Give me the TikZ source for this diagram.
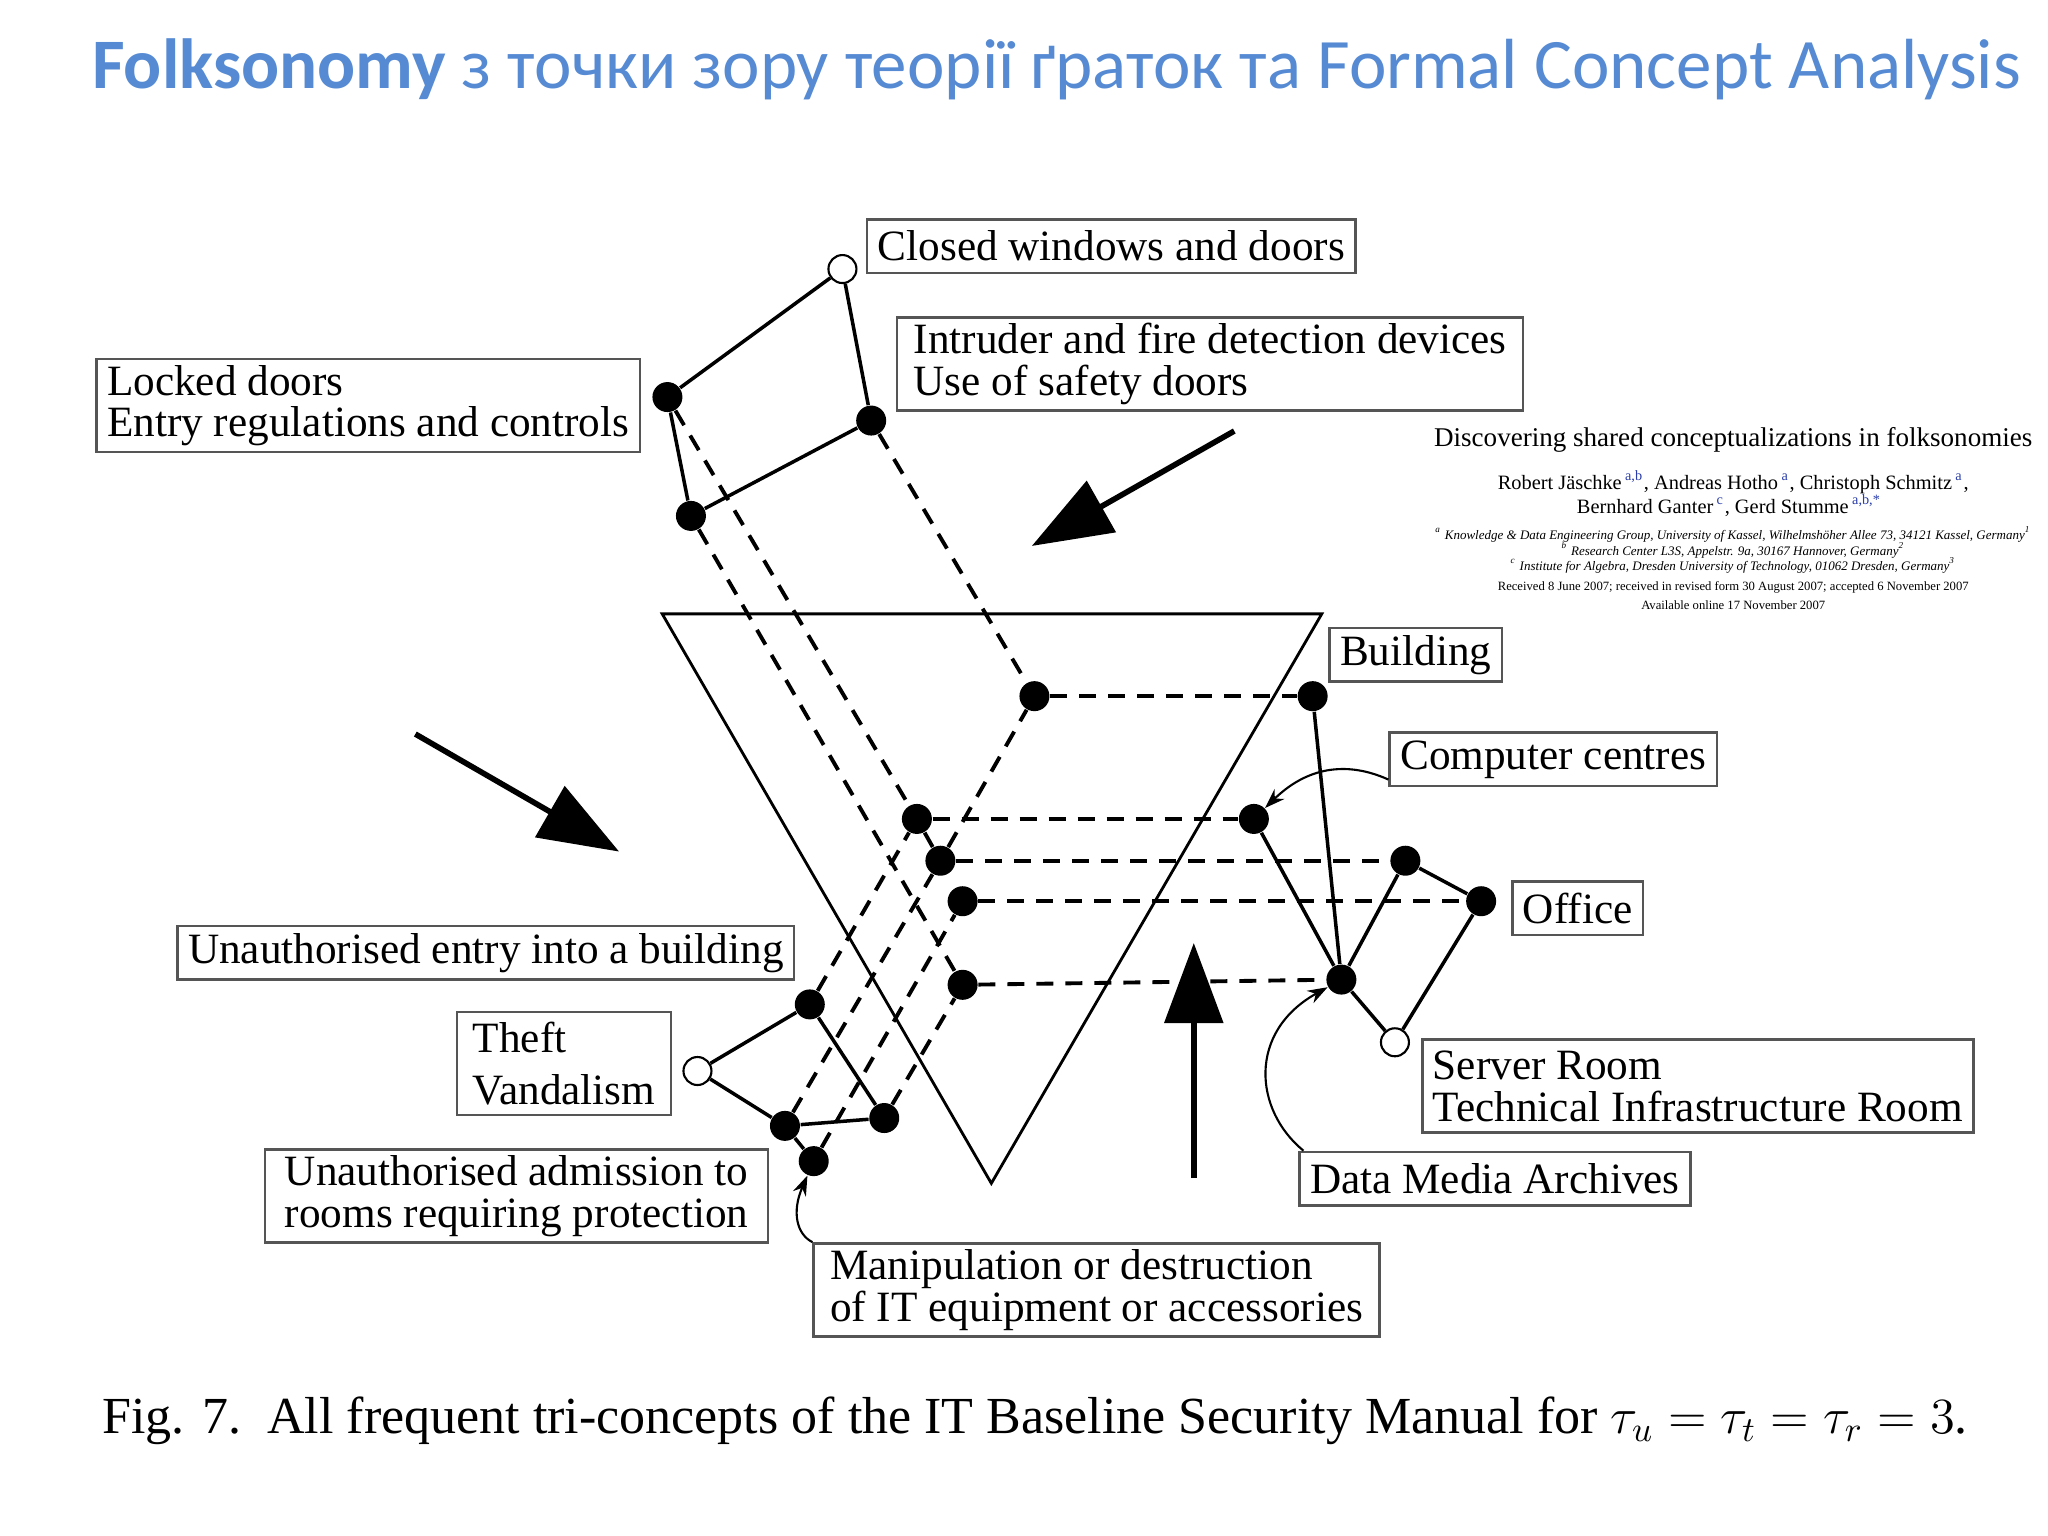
\documentclass[tikz,border=0pt]{standalone}
\usepackage{fontspec}
\setmainfont{Liberation Serif}
\newfontfamily\titlefont{Carlito}
\usetikzlibrary{arrows.meta,positioning}
\definecolor{titleblue}{RGB}{86,139,212}
\definecolor{boxgray}{RGB}{85,85,85}
\definecolor{refblue}{RGB}{40,60,170}

\begin{document}
\begin{tikzpicture}[x=0.13061mm, y=-0.13061mm,
    fdot/.style={circle, fill=black, inner sep=0pt, minimum size=3mm},
    hollow/.style={circle, draw=black, fill=white, line width=0.6pt,
      inner sep=0pt, minimum size=2.8mm},
    lbl/.style={draw=boxgray, line width=0.7pt, inner xsep=3pt, inner ysep=1pt,
      minimum height=5.35mm, align=left, anchor=north west,
      font=\fontsize{12.3}{11.9}\selectfont},
    twoline/.style={minimum height=9.3mm},
    latline/.style={line width=1pt},
    proj/.style={line width=1.1pt, dash pattern=on 1.7mm off 1.2mm},
    bigarrow/.style={line width=1.6pt, -{Triangle[length=8mm, width=5.8mm]}},
    pointer/.style={line width=0.6pt, -{Stealth[length=2mm, width=1.4mm]}}]
  \useasboundingbox (0,0) rectangle (1568,1176);

  % Title
  \node[anchor=west, inner sep=0pt, text=titleblue,
    font=\titlefont\fontsize{20.2}{24}\selectfont]
    (title) at (70,53) {\textbf{Folksonomy} з точки зору теорії ґраток та Formal Concept Analysis};

  % Paper header
  \node[font=\fontsize{7.7}{9}\selectfont] (paper) at (1327,337)
    {Discovering shared conceptualizations in folksonomies};
  \node[font=\fontsize{5.8}{7}\selectfont] (auth1) at (1327,369)
    {Robert Jäschke\,\textsuperscript{\color{refblue}a,b}, Andreas Hotho\,\textsuperscript{\color{refblue}a}, Christoph Schmitz\,\textsuperscript{\color{refblue}a},};
  \node[font=\fontsize{5.8}{7}\selectfont] (auth2) at (1324,387)
    {Bernhard Ganter\,\textsuperscript{\color{refblue}c}, Gerd Stumme\,\textsuperscript{\color{refblue}a,b,*}};
  \node[font=\fontsize{3.7}{4.5}\selectfont\itshape] (aff1) at (1327,409)
    {\textsuperscript{a} Knowledge \& Data Engineering Group, University of Kassel, Wilhelmshöher Allee 73, 34121 Kassel, Germany\textsuperscript{1}};
  \node[font=\fontsize{3.7}{4.5}\selectfont\itshape] (aff2) at (1327,421)
    {\textsuperscript{b} Research Center L3S, Appelstr. 9a, 30167 Hannover, Germany\textsuperscript{2}};
  \node[font=\fontsize{3.7}{4.5}\selectfont\itshape] (aff3) at (1327,433)
    {\textsuperscript{c} Institute for Algebra, Dresden University of Technology, 01062 Dresden, Germany\textsuperscript{3}};
  \node[font=\fontsize{3.6}{4.5}\selectfont] (recv1) at (1327,450)
    {Received 8 June 2007; received in revised form 30 August 2007; accepted 6 November 2007};
  \node[font=\fontsize{3.6}{4.5}\selectfont] (recv2) at (1327,463)
    {Available online 17 November 2007};

  % Plane
  \draw[line width=0.8pt] (507,470) -- (1012,470) -- (759,906) -- cycle;

  % Top lattice
  \node[hollow] (t1) at (645,206) {};
  \node[fdot] (t2) at (511,304) {};
  \node[fdot] (t3) at (667,322) {};
  \node[fdot] (t4) at (529,395) {};
  \draw[latline] (t1) -- (t2) (t1) -- (t3) (t2) -- (t4) (t3) -- (t4);

  % Right lattice
  \node[fdot] (r1) at (1005,533) {};
  \node[fdot] (r2) at (960,627) {};
  \node[fdot] (r3) at (1076,659) {};
  \node[fdot] (r4) at (1134,690) {};
  \node[fdot] (r5) at (1027,750) {};
  \node[hollow] (r6) at (1068,798) {};
  \draw[latline] (r1) -- (r5) (r2) -- (r5) (r3) -- (r5)
    (r3) -- (r4) (r4) -- (r6) (r5) -- (r6);

  % Bottom lattice
  \node[hollow] (b1) at (534,820) {};
  \node[fdot] (b2) at (620,769) {};
  \node[fdot] (b3) at (601,862) {};
  \node[fdot] (b4) at (677,856) {};
  \node[fdot] (b5) at (623,889) {};
  \draw[latline] (b1) -- (b2) (b1) -- (b3) (b2) -- (b4) (b3) -- (b4) (b3) -- (b5);

  % Tri-concepts
  \node[fdot] (m1) at (792,533) {};
  \node[fdot] (m2) at (702,627) {};
  \node[fdot] (m3) at (720,659) {};
  \node[fdot] (m4) at (737,690) {};
  \node[fdot] (m5) at (737,754) {};

  \draw[proj] (t3) -- (m1);
  \draw[proj] (t2) -- (m2);
  \draw[proj] (m2) -- (m3);
  \draw[proj] (t4) -- (m5);
  \draw[proj] (b3) -- (m3);
  \draw[proj] (m3) -- (m1);
  \draw[proj] (b2) -- (m2);
  \draw[proj] (b5) -- (m4);
  \draw[proj] (b4) -- (m5);
  \draw[proj] (m1) -- (r1);
  \draw[proj] (m2) -- (r2);
  \draw[proj] (m3) -- (r3);
  \draw[proj] (m4) -- (r4);
  \draw[proj] (m5) -- (r5);

  % Labels
  \node[lbl] (closed) at (663,167) {Closed windows and doors};
  \node[lbl, twoline, minimum width=62.6mm] (intruder) at (686,242)
    {Intruder and fire detection devices\\Use of safety doors};
  \node[lbl, twoline] (locked) at (73,274) {Locked doors\\Entry regulations and controls};
  \node[lbl] (building) at (1017,480) {Building};
  \node[lbl] (computer) at (1063,560) {Computer centres};
  \node[lbl] (office) at (1157,674) {Office};
  \node[lbl, twoline] (server) at (1088,795) {Server Room\\Technical Infrastructure Room};
  \node[lbl] (archives) at (994,881) {Data Media Archives};
  \node[lbl] (entry) at (135,708) {Unauthorised entry into a building};
  \node[lbl, minimum height=10.3mm, minimum width=21.4mm] (theft) at (349,774)
    {Theft\\[3pt]Vandalism};
  \node[lbl, twoline, minimum width=50.3mm] (admission) at (202,879)
    {Unauthorised admission to\\rooms requiring protection};
  \node[lbl, twoline, minimum width=56.6mm] (manip) at (622,951)
    {Manipulation or destruction\\of IT equipment or accessories};

  \draw[pointer] (computer.south west) ++(0,-6) .. controls (1030,582) and (1000,588) .. (r2);
  \draw[pointer] (archives.north west) ++(4,0) .. controls (960,850) and (955,790) .. (r5);
  \draw[pointer] (manip.north west) .. controls (610,945) and (606,928) .. (b5);

  % Direction arrows
  \coordinate (ua) at (945,330);
  \coordinate (ub) at (790,418);
  \coordinate (la) at (318,562);
  \coordinate (lb) at (474,652);
  \coordinate (ba) at (914,902);
  \coordinate (bb) at (914,722);
  \draw[bigarrow] (ua) -- (ub);
  \draw[bigarrow] (la) -- (lb);
  \draw[bigarrow] (ba) -- (bb);

  % Caption
  \node[anchor=west, inner sep=0pt, font=\fontsize{14.8}{16}\selectfont] (caption) at (78,1088)
    {Fig. 7.\enspace All frequent tri-concepts of the IT Baseline Security Manual for $\tau_u=\tau_t=\tau_r=3$.};
\end{tikzpicture}
\end{document}
